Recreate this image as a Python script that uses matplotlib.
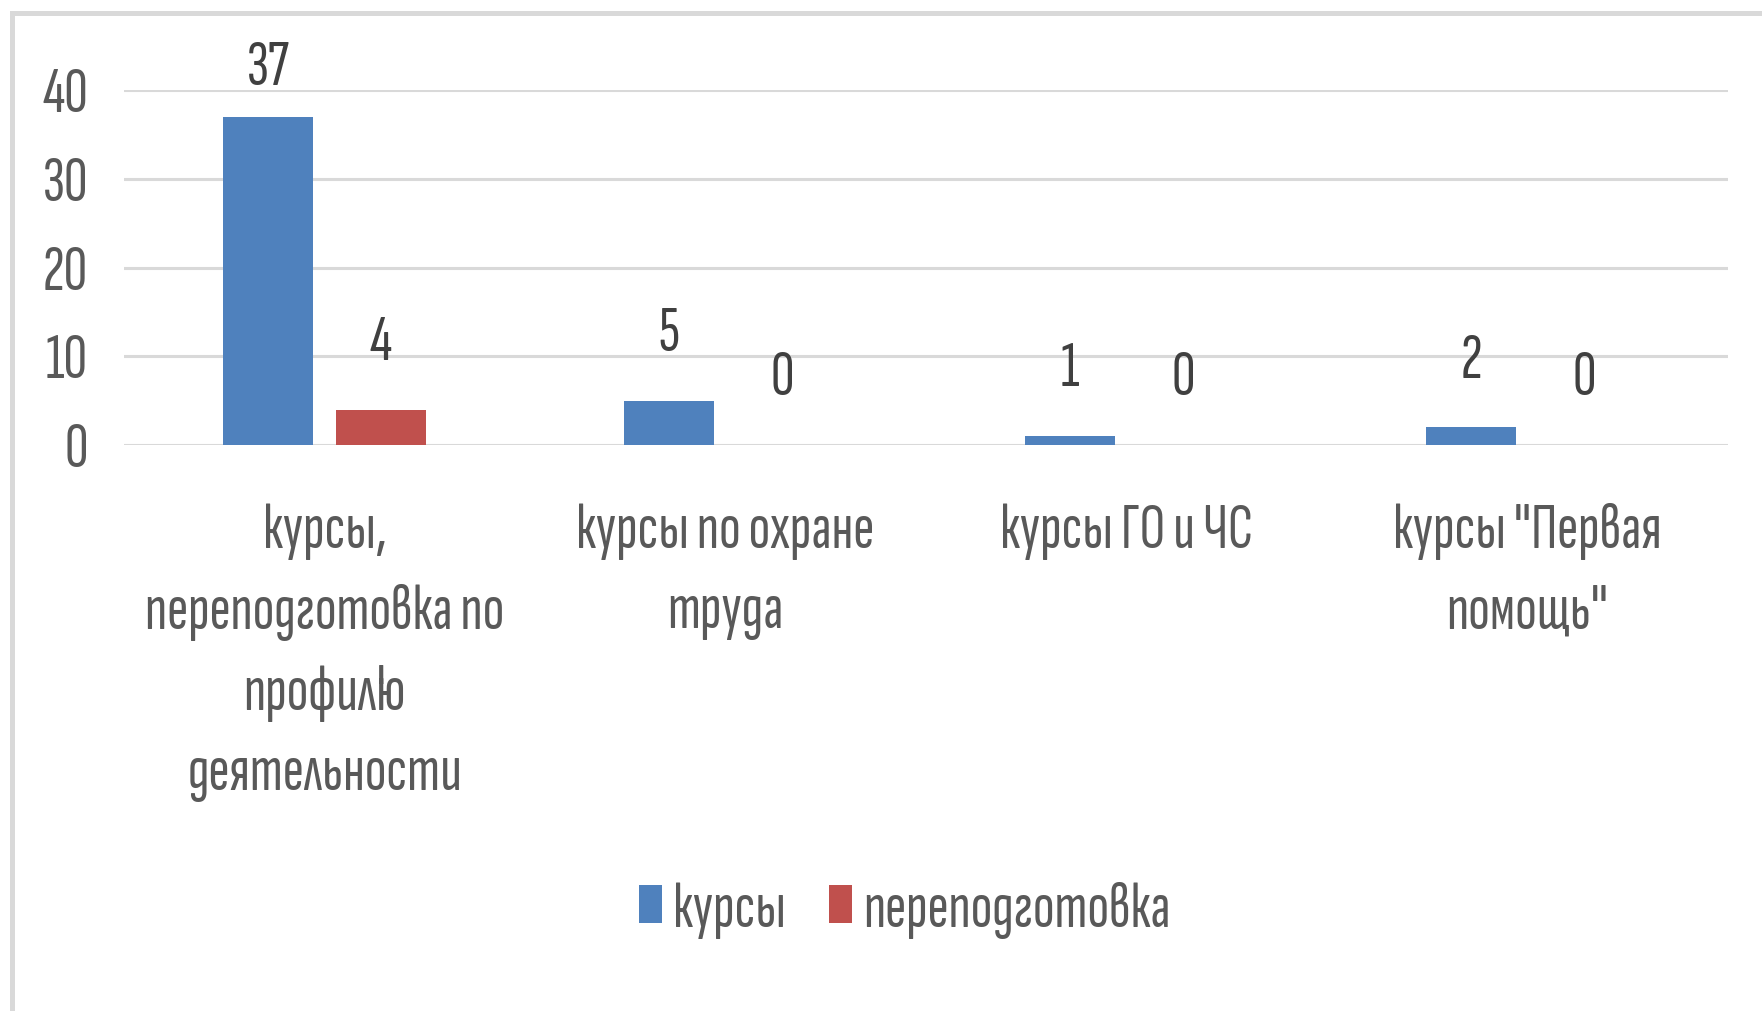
import numpy as np
import matplotlib
matplotlib.use("Agg")
import matplotlib.pyplot as plt
from matplotlib.patches import Rectangle

categories = ["курсы,\nпереподготовка по\nпрофилю\nдеятельности",
              "курсы по охране\nтруда",
              "курсы ГО и ЧС",
              "курсы \"Первая\nпомощь\""]
kursy = [37, 5, 1, 2]
perepodgotovka = [4, 0, 0, 0]
series_names = ["курсы", "переподготовка"]
yticks = [0, 10, 20, 30, 40]

plt.rcParams['font.family'] = ['Sofia Sans Extra Condensed', 'DejaVu Sans']

fig = plt.figure(figsize=(17.62, 10.11), dpi=100)
ax = fig.add_axes([124 / 1762, 1 - 445 / 1011, (1728 - 124) / 1762, 355 / 1011])

x = np.arange(len(categories))
w = 0.224
off = 0.141
b1 = ax.bar(x - off, kursy, w, color='#4f81bd', label=series_names[0], zorder=3)
b2 = ax.bar(x + off, perepodgotovka, w, color='#c0504d', label=series_names[1], zorder=3)

# value labels above bars (pushed down a bit when they would leave the plot)
for xs, vals in ((x - off, kursy), (x + off, perepodgotovka)):
    for xi, v in zip(xs, vals):
        ax.text(xi, min(v + 5.6, 40.6), str(v), ha='center', va='baseline',
                fontsize=47, color='#404040')

ax.set_xlim(-0.5, len(categories) - 0.5)
ax.set_ylim(0, 40)
ax.set_yticks(yticks)
ax.yaxis.grid(True, color='#d9d9d9', linewidth=2.2, zorder=0)
ax.set_axisbelow(True)
ax.tick_params(axis='y', length=0, pad=26, labelsize=47, labelcolor='#595959')
ax.set_xticks(x)
ax.set_xticklabels(categories, fontsize=46, color='#595959', linespacing=1.54, va='top')
ax.tick_params(axis='x', length=0, pad=42)
for s in ax.spines.values():
    s.set_visible(False)

fig.legend(handles=[b1, b2], loc='center', bbox_to_anchor=(905 / 1762, 1 - 910 / 1011),
           ncol=2, frameon=False, fontsize=46, labelcolor='#595959',
           handlelength=0.36, handleheight=0.55, handletextpad=0.17, columnspacing=0.68)

# outer chart border (only top and left visible in the reference)
fig.patches.append(Rectangle((11.5 / 1762, -0.1), 1.2, 1.1 - 12.5 / 1011,
                             transform=fig.transFigure, fill=False,
                             edgecolor='#d9d9d9', linewidth=3.6))

fig.savefig("out.png", dpi=100)
